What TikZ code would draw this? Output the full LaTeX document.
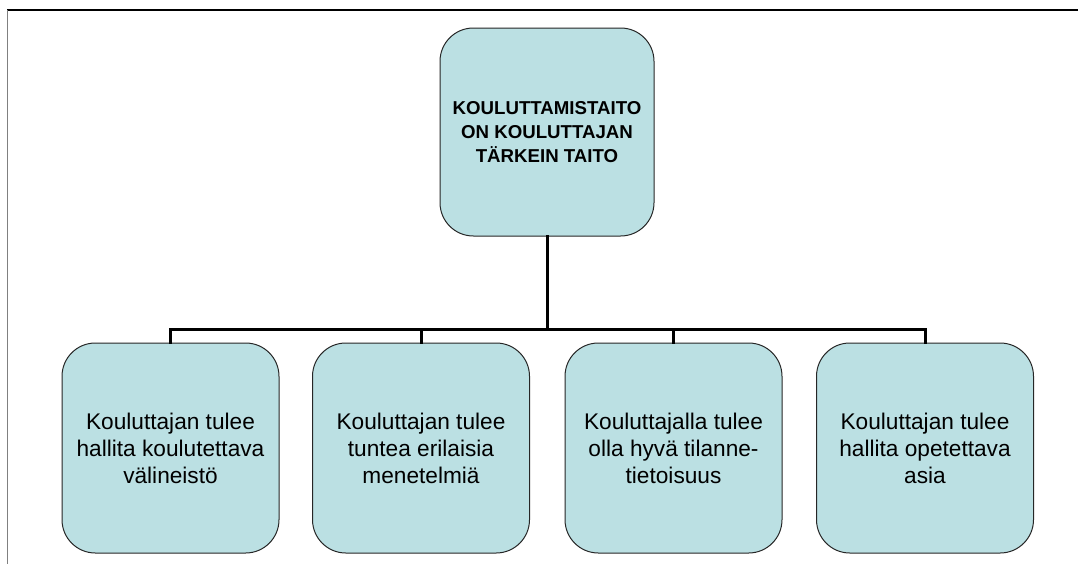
\documentclass[tikz,border=0pt]{standalone}
\usepackage{fontspec}
\setmainfont{Liberation Sans}
\definecolor{laatikko}{HTML}{BBE0E3}
\tikzset{
  ruutu/.style={draw=black!85,line width=.75pt,fill=laatikko,rounded corners=25pt,
    minimum width=162.75pt,minimum height=157.5pt,align=center,
    font=\fontsize{17pt}{20.25pt}\selectfont,inner sep=0pt},
  paaruutu/.style={ruutu,minimum width=160.5pt,minimum height=156pt,
    font=\fontsize{14pt}{18pt}\selectfont\bfseries},
  haara/.style={line width=2.25pt,line cap=rect}
}
\begin{document}
\begin{tikzpicture}[x=.75pt,y=-.75pt]
  \useasboundingbox (0,0) rectangle (1078,564);

  %% frame
  \draw[line width=1.5pt] (7,9.5) -- (1078,9.5);
  \draw[gray,line width=1.1pt] (7.5,10) -- (7.5,564);

  %% top box
  \node[paaruutu] (taito) at (547,132) {KOULUTTAMISTAITO\\ON KOULUTTAJAN\\TÄRKEIN TAITO};

  %% bottom row
  \node[ruutu] (b1) at (170.5,448) {Kouluttajan tulee\\hallita koulutettava\\välineistö};
  \node[ruutu] (b2) at (421,448) {Kouluttajan tulee\\tuntea erilaisia\\menetelmiä};
  \node[ruutu] (b3) at (673.5,448) {Kouluttajalla tulee\\olla hyvä tilanne-\\tietoisuus};
  \node[ruutu] (b4) at (925,448) {Kouluttajan tulee\\hallita opetettava\\asia};

  %% connectors
  \coordinate (haara) at (547,329);
  \draw[haara] (taito.south) -- (haara);
  \draw[haara] (b1.north) |- (b4.north |- haara) -- (b4.north);
  \draw[haara] (b2.north) -- (b2.north |- haara);
  \draw[haara] (b3.north) -- (b3.north |- haara);
\end{tikzpicture}
\end{document}
